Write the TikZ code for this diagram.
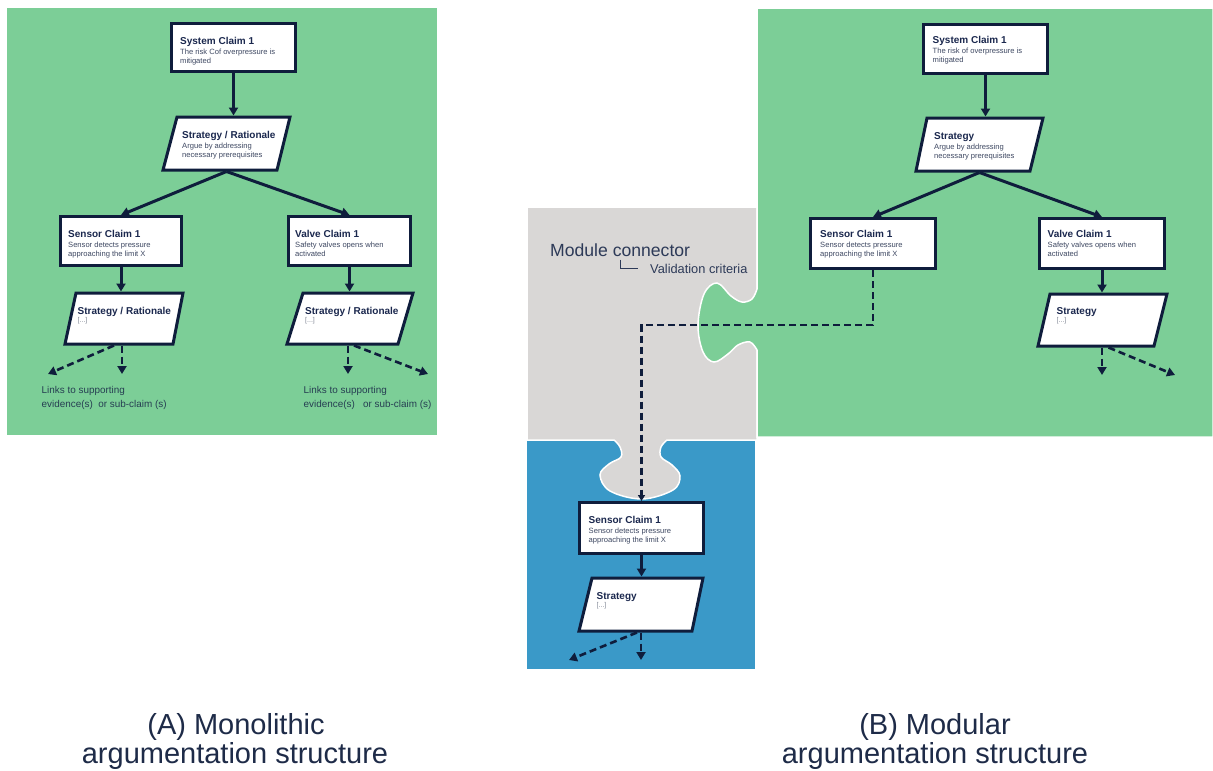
\documentclass[tikz,border=0pt]{standalone}
\usepackage{fontspec}
\setmainfont{Liberation Sans}
\usetikzlibrary{arrows.meta,calc}
\definecolor{grn}{RGB}{124,206,151}
\definecolor{gry}{RGB}{217,215,214}
\definecolor{blu}{RGB}{58,153,200}
\definecolor{navy}{RGB}{15,29,60}
\definecolor{ttlc}{RGB}{27,40,78}
\definecolor{bdyc}{RGB}{62,72,98}
\definecolor{dotc}{RGB}{130,136,150}
\definecolor{capc}{RGB}{30,43,72}
\definecolor{lnkc}{RGB}{38,62,82}
\definecolor{modc}{RGB}{45,58,88}
\tikzset{
  claim/.style 2 args={draw=navy, line width=3pt, fill=white, minimum width=#1pt, minimum height=#2pt, inner sep=0pt},
  paranode/.style={minimum height=#1pt, minimum width=100pt, inner sep=0pt, outer sep=1.5pt},
  parabox/.style={draw=navy, line width=3pt, fill=white, line join=miter},
  arr/.style={draw=navy, line width=3pt, -{Triangle[length=8pt,width=9pt]}},
  darr/.style={draw=navy, line width=2.6pt, dash pattern=on 7pt off 4pt, -{Triangle[length=8pt,width=9pt]}},
  ttl/.style={anchor=base west, inner sep=0pt, font=\fontsize{10}{12}\selectfont\bfseries, text=ttlc},
  bdy/.style={anchor=base west, inner sep=0pt, font=\fontsize{7.6}{9}\selectfont, text=bdyc},
  dots/.style={anchor=base west, inner sep=0pt, font=\fontsize{7}{9}\selectfont, text=dotc},
  lnk/.style={anchor=base west, inner sep=0pt, font=\fontsize{9.9}{12}\selectfont, text=lnkc},
  capt/.style={anchor=base, inner sep=0pt, font=\fontsize{29}{32}\selectfont, text=capc},
  modtxt/.style={anchor=base west, inner sep=0pt, text=modc},
  panel/.style={draw=white, line width=1.5pt},
}
\newcommand\boxlabel[6]{%
  \node[ttl] (#1t) at (#2,#3) {#4};
  \node[bdy] (#1a) at (#2,#3+10) {#5};
  \node[bdy] (#1b) at (#2,#3+19) {#6};}
\newcommand\stratlabel[4]{%
  \node[ttl] (#1t) at (#2,#3) {#4};
  \node[dots] (#1a) at (#2,#3+8.5) {[...]};}
\begin{document}
\begin{tikzpicture}[x=1pt,y=-1pt]
\useasboundingbox (0,0) rectangle (1213,771);
\fill[white] (0,0) rectangle (1213,771);
% ---------- panels ----------
\fill[grn] (7,8) rectangle (437,435);
\fill[blu] (527,440) rectangle (755,669);
\filldraw[panel, fill=gry] (527,207) -- (757,207) -- (757,440) -- (667,440)
  -- plot[smooth, tension=0.6] coordinates {(667,440) (661,447) (661,457) (672,465) (680,476) (673,490) (642,499) (610,491) (600,475) (609,464) (621,457) (620,447) (614,440)}
  -- (527,440) -- cycle;
\filldraw[panel, fill=grn] (1213,8) -- (757,8) -- (757,289)
  -- plot[smooth, tension=0.6] coordinates {(757,289) (752,299) (742,302) (731,296) (717,283) (704,294) (698,325) (703,352) (714,362) (728,354) (738,345) (750,342) (757,350)}
  -- (757,437) -- (1213,437) -- cycle;
% ---------- parallelograms ----------
\draw[parabox] (163,170) -- (277,170) -- (290,117) -- (177,117) -- cycle;
\draw[parabox] (65,344) -- (173,344) -- (183,293) -- (76,293) -- cycle;
\draw[parabox] (287,344) -- (398,344) -- (413,293) -- (303,293) -- cycle;
\draw[parabox] (916,171) -- (1030,171) -- (1043,118) -- (927,118) -- cycle;
\draw[parabox] (1038,346) -- (1154,346) -- (1167,294) -- (1050,294) -- cycle;
\draw[parabox] (579,631) -- (692,631) -- (703,578) -- (592,578) -- cycle;
\node[paranode=53] (stratA) at (226.5,143.5) {};
\node[paranode=51] (sstratA) at (124,318.5) {};
\node[paranode=51] (vstratA) at (350,318.5) {};
\node[paranode=53] (stratB) at (979.5,144.5) {};
\node[paranode=52] (vstratB) at (1102.5,320) {};
\node[paranode=53] (stratC) at (641,604.5) {};
% ---------- claim boxes ----------
\node[claim={124}{48}] (sysA) at (233.5,47.5) {};
\node[claim={121}{49}] (senA) at (121,241) {};
\node[claim={122}{49}] (valA) at (349.5,241) {};
\node[claim={124}{49}] (sysB) at (985.5,49) {};
\node[claim={125}{50}] (senB) at (873,243.5) {};
\node[claim={125}{50}] (valB) at (1102,243.5) {};
\node[claim={124}{51}] (senC) at (641.5,528) {};
% ---------- texts in boxes ----------
\boxlabel{tsysA}{180}{44}{System Claim 1}{The risk Cof overpressure is}{mitigated}
\boxlabel{tstrA}{182}{138.5}{Strategy / Rationale}{Argue by addressing}{necessary prerequisites}
\boxlabel{tsenA}{68}{237.5}{Sensor Claim 1}{Sensor detects pressure}{approaching the limit X}
\boxlabel{tvalA}{295}{237.5}{Valve Claim 1}{Safety valves opens when}{activated}
\stratlabel{tssA}{77.5}{314}{Strategy / Rationale}
\stratlabel{tvsA}{305}{314}{Strategy / Rationale}
\boxlabel{tsysB}{932.5}{43.5}{System Claim 1}{The risk of overpressure is}{mitigated}
\boxlabel{tstrB}{934}{139}{Strategy}{Argue by addressing}{necessary prerequisites}
\boxlabel{tsenB}{820}{237.5}{Sensor Claim 1}{Sensor detects pressure}{approaching the limit X}
\boxlabel{tvalB}{1047.5}{237.5}{Valve Claim 1}{Safety valves opens when}{activated}
\stratlabel{tvsB}{1056.5}{314}{Strategy}
\boxlabel{tsenC}{588.5}{523.5}{Sensor Claim 1}{Sensor detects pressure}{approaching the limit X}
\stratlabel{tstC}{596.5}{599}{Strategy}
% ---------- free ends ----------
\coordinate (lA1) at (48,374);
\coordinate (lA2) at (122,374);
\coordinate (lA3) at (428,374);
\coordinate (lA4) at (348,374);
\coordinate (lB1) at (1102,375);
\coordinate (lB2) at (1175,375);
\coordinate (lC1) at (569,660);
\coordinate (lC2) at (641,660);
\coordinate (kinky) at (0,325);
% ---------- connectors (A) ----------
\draw[arr] (sysA.south) -- (sysA.south |- stratA.north);
\draw[arr] (stratA.south) -- (senA.north);
\draw[arr] (stratA.south) -- (valA.north);
\draw[arr] (senA.south) -- (senA.south |- sstratA.north);
\draw[arr] (valA.south) -- (valA.south |- vstratA.north);
\draw[darr] ([xshift=-10pt]sstratA.south) -- (lA1);
\draw[darr] (sstratA.south -| lA2) -- (lA2);
\draw[darr] ([xshift=4pt]vstratA.south) -- (lA3);
\draw[darr] (vstratA.south -| lA4) -- (lA4);
% ---------- connectors (B) ----------
\draw[arr] (sysB.south) -- (sysB.south |- stratB.north);
\draw[arr] (stratB.south) -- (senB.north);
\draw[arr] (stratB.south) -- (valB.north);
\draw[arr] (valB.south) -- (valB.south |- vstratB.north);
\draw[darr] ([xshift=6pt]vstratB.south) -- (lB2);
\draw[darr] (vstratB.south -| lB1) -- (lB1);
\draw[darr, -{Triangle[length=6pt,width=7pt]}] (senB.south) |- (senC.north |- kinky) -- (senC.north);
\draw[arr] (senC.south) -- (senC.south |- stratC.north);
\draw[darr] ([xshift=-4pt]stratC.south) -- (lC1);
\draw[darr] (stratC.south -| lC2) -- (lC2);
% ---------- link texts ----------
\node[lnk] (lnkA1) at (41.5,393) {Links to supporting};
\node[lnk] (lnkA2) at (41.5,407) {evidence(s)\ \ or sub-claim (s)};
\node[lnk] (lnkB1) at (303.5,393) {Links to supporting};
\node[lnk] (lnkB2) at (303.5,407) {evidence(s)\ \ \ or sub-claim (s)};
% ---------- module connector ----------
\node[modtxt, font=\fontsize{17.6}{20}\selectfont] (modcon) at (550,256) {Module connector};
\node[modtxt, font=\fontsize{12.8}{15}\selectfont] (valcrit) at (650,273) {Validation criteria};
\draw[modc, line width=0.9pt] (620,259.5) |- (638,268);
% ---------- captions ----------
\node[capt] (capA1) at (236,734) {(A) Monolithic};
\node[capt] (capA2) at (235,763) {argumentation structure};
\node[capt] (capB1) at (935,734) {(B) Modular};
\node[capt] (capB2) at (935,763) {argumentation structure};
\end{tikzpicture}
\end{document}
